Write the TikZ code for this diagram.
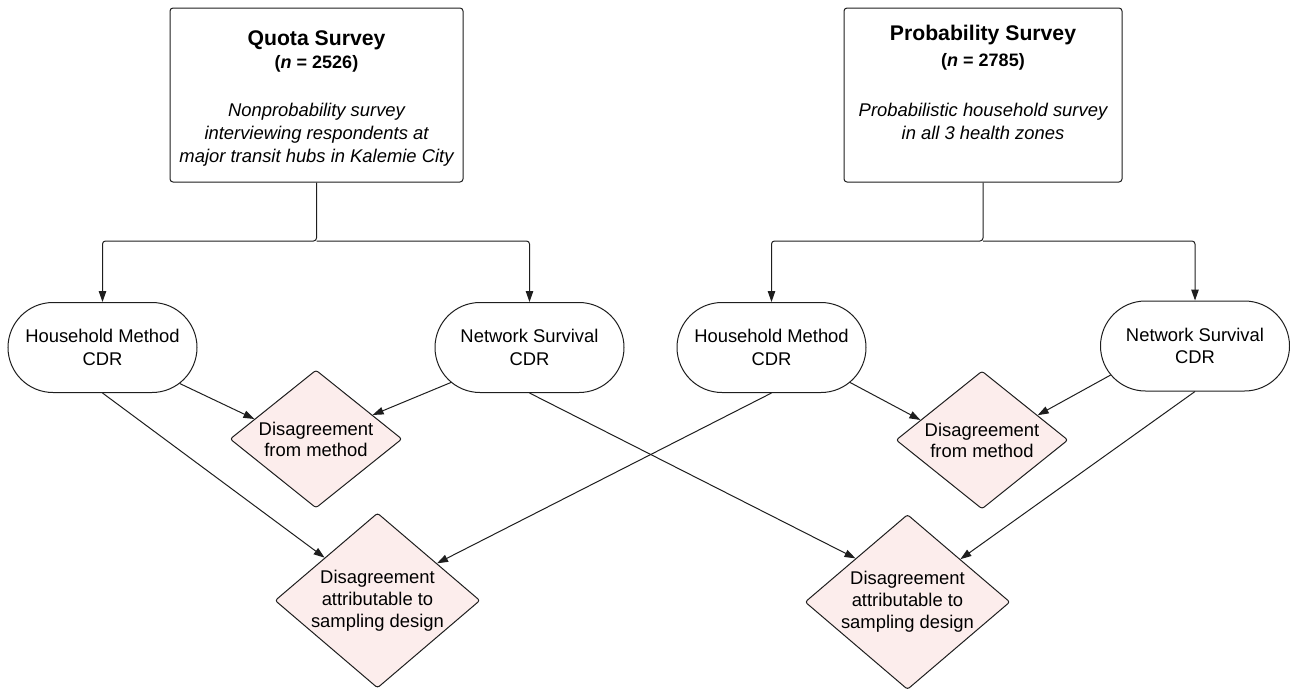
\documentclass[tikz,border=0pt]{standalone}
\usepackage{fontspec}
\setmainfont{Liberation Sans}
\usetikzlibrary{shapes.geometric,shapes.misc,arrows.meta}
\definecolor{pinkfill}{HTML}{FCEDEC}
\definecolor{edgeclr}{HTML}{1E1E1E}
\begin{document}
\begin{tikzpicture}[x=1pt,y=-1pt,
  survey/.style={draw=edgeclr, line width=1pt, rounded corners=3pt, inner sep=0pt, fill=white},
  titletext/.style={anchor=base, inner sep=0pt, font=\fontsize{21.2}{25}\selectfont\bfseries},
  ntext/.style={anchor=base, inner sep=0pt, font=\fontsize{18}{22}\selectfont\bfseries},
  desctext/.style={anchor=north, inner sep=0pt, align=center, font=\fontsize{18.4}{23}\selectfont\itshape},
  stadium/.style={rounded rectangle, draw=edgeclr, line width=1pt, minimum width=189pt, minimum height=90pt, inner sep=0pt, align=center, font=\fontsize{18.4}{22.5}\selectfont},
  diam/.style={diamond, draw=edgeclr, line width=1pt, fill=pinkfill, rounded corners=2.5pt, inner sep=0pt, align=center},
  smalldiam/.style={diam, aspect=1.246, minimum width=172pt, minimum height=138pt, font=\fontsize{18.4}{21}\selectfont},
  bigdiam/.style={diam, aspect=1.17, minimum width=205pt, minimum height=175pt, font=\fontsize{18.4}{22}\selectfont},
  arr/.style={draw=edgeclr, line width=1pt, -{Triangle[length=11pt,width=7.5pt]}}
]
\useasboundingbox (0,0) rectangle (1290,691);

% survey boxes
\node[survey, minimum width=293pt, minimum height=174pt] (quota) at (316.5,95) {};
\node[titletext] (quotaT) at (316.5,45.5) {Quota Survey};
\node[ntext] (quotaN) at (316.5,68.5) {(\textit{n} = 2526)};
\node[desctext] (quotaD) at (316.5,102.6) {Nonprobability survey\\interviewing respondents at\\major transit hubs in Kalemie City};

\node[survey, minimum width=278pt, minimum height=174pt] (prob) at (983,95) {};
\node[titletext] (probT) at (983,40) {Probability Survey};
\node[ntext] (probN) at (983,66.5) {(\textit{n} = 2785)};
\node[desctext] (probD) at (983,102.6) {Probabilistic household survey\\in all 3 health zones};

% CDR nodes
\node[stadium] (hhL) at (102.5,347.5) {Household Method\\CDR};
\node[stadium] (nwL) at (529.5,347.5) {Network Survival\\CDR};
\node[stadium] (hhR) at (771.5,347.5) {Household Method\\CDR};
\node[stadium] (nwR) at (1195,346) {Network Survival\\CDR};

% disagreement diamonds
\node[smalldiam] (dmL) at (316,439) {Disagreement\\from method};
\node[smalldiam] (dmR) at (982,440) {Disagreement\\from method};
\node[bigdiam] (dbL) at (377.5,600.5) {Disagreement\\attributable to\\sampling design};
\node[bigdiam] (dbR) at (907.5,602) {Disagreement\\attributable to\\sampling design};

% tree connectors
\coordinate (jq) at (316.5,241);
\coordinate (jp) at (983,241);
\draw[arr, rounded corners=3pt] (quota.south) -- (jq) -| (hhL.north);
\draw[arr, rounded corners=3pt] (jq) -| (nwL.north);
\draw[arr, rounded corners=3pt] (prob.south) -- (jp) -| (hhR.north);
\draw[arr, rounded corners=3pt] (jp) -| (nwR.north);

% comparison connectors
\draw[arr] (hhL.-25) -- (dmL.162);
\draw[arr] (nwL.-156) -- (dmL.23);
\draw[arr] (hhL.south) -- (dbL.141);
\draw[arr] (nwL.south) -- (dbR.140);
\draw[arr] (hhR.south) -- (dbL.32);
\draw[arr] (hhR.-24) -- (dmR.162);
\draw[arr] (nwR.-161) -- (dmR.24);
\draw[arr] (nwR.south) -- (dbR.39);
\end{tikzpicture}
\end{document}
